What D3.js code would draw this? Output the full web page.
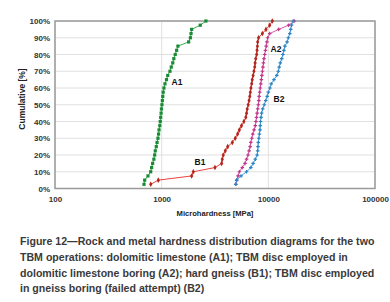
<!DOCTYPE html>
<html>
<head>
<meta charset="utf-8">
<script src="https://cdn.jsdelivr.net/npm/d3@7"></script>
<style>
  body { margin: 0; background: #fff; }
  svg { display: block; font-family: "Liberation Sans", Arial, sans-serif; }
</style>
</head>
<body>
<svg id="chart" width="390" height="302"></svg>
<script>
// cumulative levels (%) shared by all four distributions
var levels = [2.5, 5, 7.5, 10, 12.5, 15, 17.5, 20, 22.5, 25, 27.5, 30, 32.5, 35, 37.5, 40,
  42.5, 45, 47.5, 50, 52.5, 55, 57.5, 60, 62.5, 65, 67.5, 70, 72.5, 75, 77.5, 80,
  82.5, 85, 87.5, 90, 92.5, 95, 97.5, 100];

// microhardness [MPa]
var a1 = [683, 693, 744, 789, 805, 823, 845, 860, 871, 890, 905, 923, 935, 945, 960, 970,
  979, 988, 995, 1006, 1015, 1024, 1033, 1050, 1074, 1110, 1140, 1196, 1230, 1270, 1300, 1340,
  1382, 1420, 1790, 1860, 1885, 1910, 2300, 2600];
var b1 = [790, 930, 1910, 1980, 3160, 3650, 3700, 3780, 3950, 4160, 4600, 4900, 5150, 5350, 5600, 5900,
  6150, 6250, 6340, 6480, 6600, 6700, 6780, 6870, 6980, 7060, 7200, 7330, 7450, 7520, 7620, 7770,
  7840, 7900, 7940, 8100, 8800, 9500, 10300, 10900];
var a2 = [4950, 5050, 5200, 5350, 5700, 6050, 6250, 6450, 6600, 6750, 6850, 7000, 7150, 7350, 7550, 7650,
  7750, 7850, 7950, 8050, 8150, 8200, 8300, 8400, 8500, 8600, 8700, 8800, 8900, 9000, 9100, 9250,
  9400, 9550, 9700, 9850, 10300, 12500, 15500, 17500];
var b2 = [4950, 5050, 5550, 6250, 6850, 7200, 7550, 7850, 7950, 8000, 8050, 8150, 8250, 8350, 8400, 8450,
  8550, 8650, 8850, 9150, 9450, 9750, 10000, 10350, 10650, 11300, 12000, 12400, 12650, 12950, 13350, 13700,
  14000, 14300, 15000, 15400, 15900, 16200, 16500, 17100];

var xTicks = [100, 1000, 10000, 100000];
var yTicks = [0, 10, 20, 30, 40, 50, 60, 70, 80, 90, 100];

var caption = [
  "Figure 12\u2014Rock and metal hardness distribution diagrams for the two",
  "TBM operations: dolomitic limestone (A1); TBM disc employed in",
  "dolomitic limestone boring (A2); hard gneiss (B1); TBM disc employed",
  "in gneiss boring (failed attempt) (B2)"
];

var series = [
  { name: "A1", vals: a1, line: "#3cb050", mark: "#1b8a35", shape: "square", lx: 177, ly: 82 },
  { name: "B1", vals: b1, line: "#e8453c", mark: "#b3261e", shape: "diamond", lx: 200, ly: 162 },
  { name: "A2", vals: a2, line: "#dc5aa6", mark: "#c2358a", shape: "cross", lx: 276, ly: 49 },
  { name: "B2", vals: b2, line: "#4aa3dc", mark: "#2a83c4", shape: "cross", lx: 279, ly: 99 }
];

var svg = d3.select("#chart");
var pLeft = 55, pRight = 375, pTop = 21, pBottom = 188.5;

var x = d3.scaleLog().domain([100, 100000]).range([pLeft, pRight]);
var y = d3.scaleLinear().domain([0, 100]).range([pBottom, pTop]);

// grid
var grid = svg.append("g");
grid.selectAll(".hg").data(yTicks).enter().append("line")
  .attr("x1", pLeft).attr("x2", pRight)
  .attr("y1", d => y(d)).attr("y2", d => y(d))
  .attr("stroke", "#d8d8d8").attr("stroke-width", 0.8);
grid.selectAll(".vg").data(xTicks).enter().append("line")
  .attr("x1", d => x(d)).attr("x2", d => x(d))
  .attr("y1", pTop).attr("y2", pBottom)
  .attr("stroke", "#d8d8d8").attr("stroke-width", 0.8);

// frame
svg.append("rect")
  .attr("x", pLeft).attr("y", pTop)
  .attr("width", pRight - pLeft).attr("height", pBottom - pTop)
  .attr("fill", "none").attr("stroke", "#9a9a9a").attr("stroke-width", 1.5);

// axes
var xAxis = svg.append("g").attr("transform", `translate(0,${pBottom})`)
  .call(d3.axisBottom(x).tickValues(xTicks).tickFormat(d3.format("d")).tickSize(0).tickPadding(8));
var yAxis = svg.append("g").attr("transform", `translate(${pLeft},0)`)
  .call(d3.axisLeft(y).tickValues(yTicks).tickFormat(d => d + "%").tickSize(0).tickPadding(5));
[xAxis, yAxis].forEach(function (g) {
  g.select(".domain").remove();
  g.selectAll("text").attr("font-size", 8).attr("font-weight", "bold").attr("fill", "#333")
    .attr("font-family", "Liberation Sans, Arial, sans-serif");
});

svg.append("text")
  .attr("x", 215).attr("y", 215.5)
  .attr("text-anchor", "middle").attr("font-size", 7.6).attr("font-weight", "bold").attr("fill", "#222")
  .text("Microhardness [MPa]");
svg.append("text")
  .attr("transform", "translate(24.5,99) rotate(-90)")
  .attr("text-anchor", "middle").attr("font-size", 8.5).attr("font-weight", "bold").attr("fill", "#222")
  .text("Cumulative [%]");

// curves
var line = d3.line().x(d => x(d[0])).y(d => y(d[1]));
series.forEach(function (s) {
  var pts = s.vals.map((v, i) => [v, levels[i]]);
  var g = svg.append("g");
  g.append("path").datum(pts)
    .attr("d", line).attr("fill", "none")
    .attr("stroke", s.line).attr("stroke-width", 1);
  var m = g.selectAll(".m").data(pts).enter();
  if (s.shape === "square") {
    m.append("rect")
      .attr("x", d => x(d[0]) - 1.6).attr("y", d => y(d[1]) - 1.6)
      .attr("width", 3.2).attr("height", 3.2).attr("fill", s.mark);
  } else if (s.shape === "diamond") {
    m.append("path")
      .attr("d", d3.symbol(d3.symbolDiamond, 9))
      .attr("transform", d => `translate(${x(d[0])},${y(d[1])})`)
      .attr("fill", s.mark);
  } else {
    m.append("path")
      .attr("d", d3.symbol(d3.symbolCross, 7))
      .attr("transform", d => `translate(${x(d[0])},${y(d[1])})`)
      .attr("fill", s.mark);
  }
  svg.append("text")
    .attr("x", s.lx).attr("y", s.ly).attr("dy", "0.35em")
    .attr("text-anchor", "middle").attr("font-size", 8.5).attr("font-weight", "bold").attr("fill", "#111")
    .text(s.name);
});

// caption
svg.append("g").selectAll("text").data(caption).enter().append("text")
  .attr("x", 20).attr("y", (d, i) => 245 + i * 15.8)
  .attr("font-size", 10.6).attr("font-weight", "bold").attr("fill", "#3a3a3a")
  .text(d => d);
</script>
</body>
</html>
